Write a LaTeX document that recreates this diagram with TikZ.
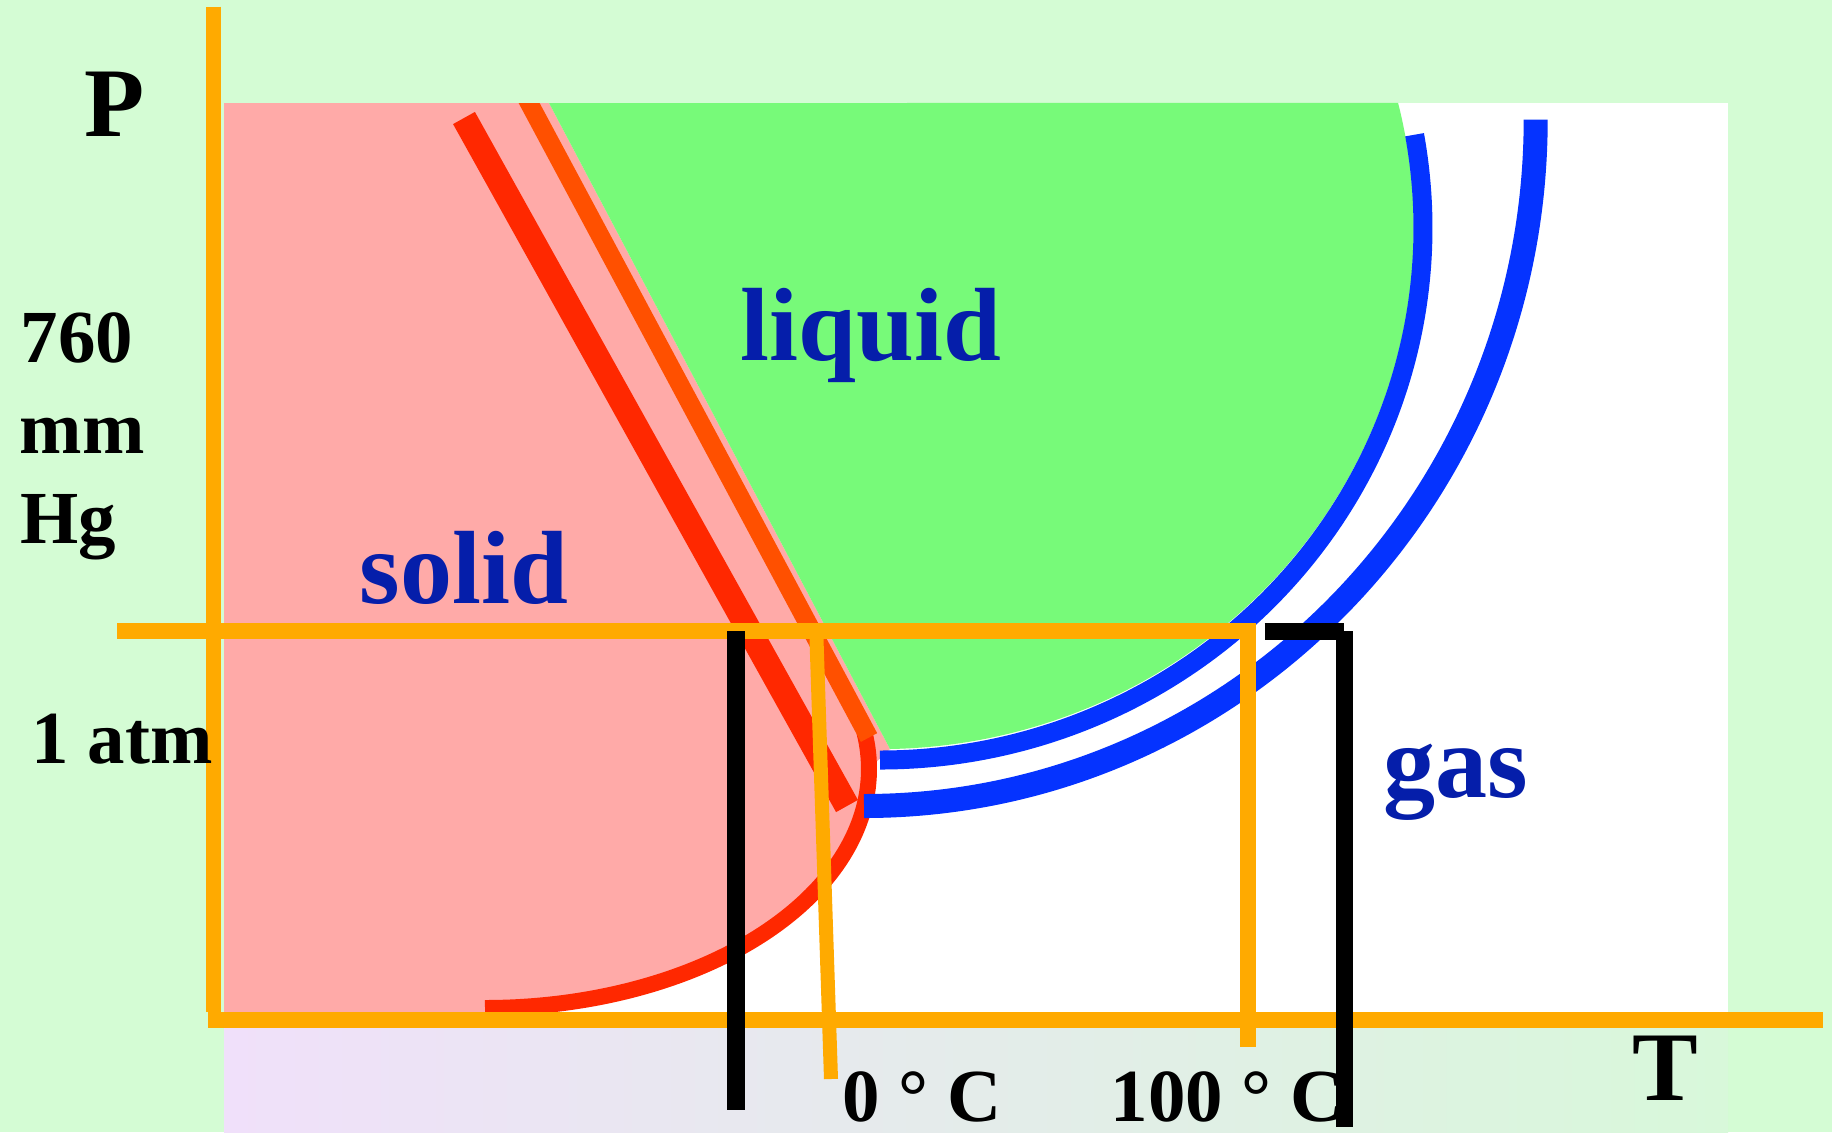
\documentclass[tikz,border=0pt]{standalone}
\usepackage{fontspec}
\setmainfont{Liberation Serif}
\tikzset{
    axisline/.style={draw=axisamber, line width=0.155cm},
    markline/.style={draw=black, line width=0.17cm},
    bluecurve/.style={draw=vapblue, line width=#1},
    phaselabel/.style={anchor=base west, inner sep=0pt, text=labelnavy, font=\fontsize{29.6}{32}\selectfont\bfseries},
    scalelabel/.style={anchor=base west, inner sep=0pt, font=\fontsize{21.3}{24}\selectfont\bfseries},
    axislabel/.style={anchor=base west, inner sep=0pt, font=\fontsize{28}{30}\selectfont\bfseries}
}
\definecolor{bgmint}{RGB}{212,252,212}
\definecolor{solidpink}{RGB}{255,170,168}
\definecolor{liquidgreen}{RGB}{119,250,121}
\definecolor{fusered}{RGB}{255,40,0}
\definecolor{meltorange}{RGB}{255,80,0}
\definecolor{axisamber}{RGB}{255,170,0}
\definecolor{vapblue}{RGB}{5,51,255}
\definecolor{labelnavy}{RGB}{5,30,170}
\definecolor{stripviolet}{RGB}{240,224,250}
\definecolor{stripmint}{RGB}{216,248,218}

\begin{document}
\begin{tikzpicture}[x=0.01cm, y=-0.01cm]

\useasboundingbox (0,0) rectangle (1832,1132);
\fill[bgmint] (0,0) rectangle (1832,1132);
\fill[white] (224,103) rectangle (1728,1012);
\shade[left color=stripviolet, right color=stripmint] (224,1028) rectangle (1728,1132);

\fill[solidpink] (224,103) -- (549,103) -- (890,749) -- (869,769)
    arc[start angle=0, end angle=90, x radius=384, y radius=239] -- (485,1012) -- (224,1012) -- cycle;
\fill[liquidgreen] (549,103) -- (890,749)
    arc[start angle=88.9, end angle=-13.9, x radius=534, y radius=521] -- cycle;

\draw[fusered, line width=0.16cm] (485,1008) arc[start angle=90, end angle=-8.9, x radius=384, y radius=239];
\draw[fusered, line width=0.25cm] (464,118) -- (847,806);
\begin{scope}
    \clip (0,103) rectangle (1832,1132);
    \draw[meltorange, line width=0.185cm] (520,86) -- (869,737.5);
\end{scope}

\draw[bluecurve=0.19cm] (880,760) arc[start angle=90, end angle=-10.1, x radius=543, y radius=532];
\draw[bluecurve=0.24cm] (864,806) arc[start angle=90, end angle=0, x radius=671.7, y radius=686.4];

\draw[axisline] (213.7,6.7) -- (213.7,1012);
\draw[axisline] (208,1020) -- (1823,1020);
\draw[axisline] (117,631) -- (1256,631);
\draw[axisline] (1248,631) -- (1248,1047);
\draw[axisline, line width=0.14cm] (816.5,639) -- (831,1079);

\node[axislabel] (plabel) at (84,136.7) {P};
\node[axislabel] (tlabel) at (1632,1100.7) {T};
\node[scalelabel] (presvalue) at (20,362) {760};
\node[scalelabel] (presunit) at (19,453) {mm};
\node[scalelabel] (presmetal) at (20,543) {Hg};
\node[scalelabel] (atmlabel) at (31,763) {1 atm};
\node[scalelabel, text depth=0pt] (freezelabel) at (842,1121) {0 ° C};
\node[scalelabel, text depth=0pt] (boillabel) at (1110,1121) {100 ° C};

\node[phaselabel] (liquidlabel) at (740,360) {liquid};
\node[phaselabel] (solidlabel) at (359,603) {solid};
\node[phaselabel] (gaslabel) at (1383,797) {gas};

\draw[markline] (736,631) -- (736,1110);
\draw[markline] (1264.5,631) -- (1344,631);
\draw[markline] (1344,631) -- (1344,1127);

\end{tikzpicture}
\end{document}
